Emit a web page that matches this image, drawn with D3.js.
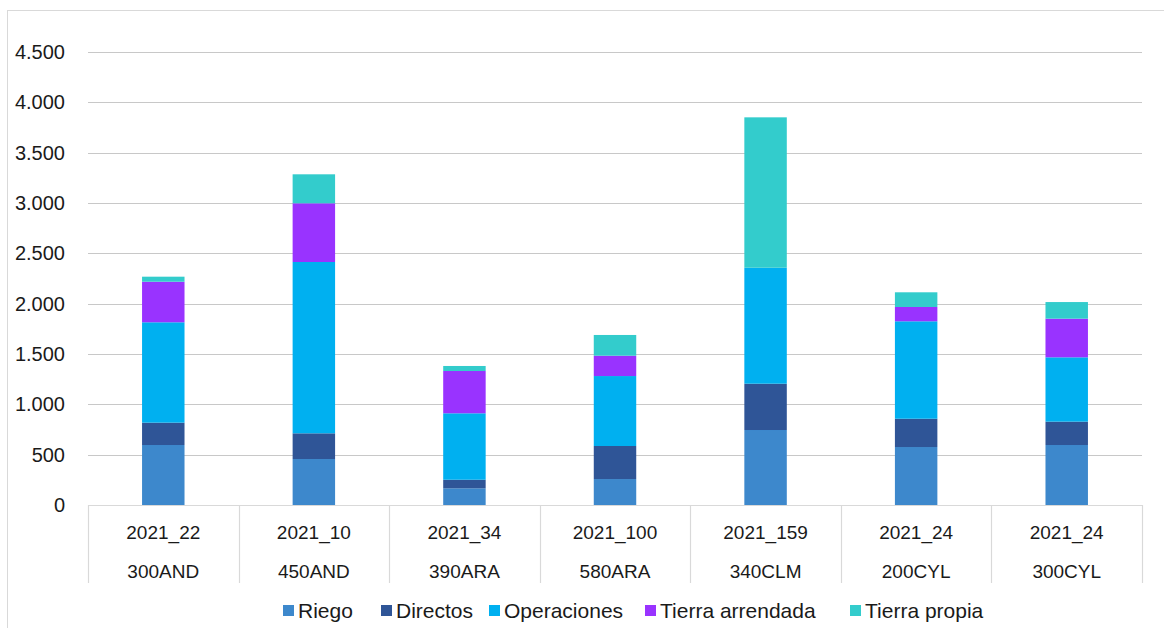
<!DOCTYPE html>
<html>
<head>
<meta charset="utf-8">
<script src="https://cdn.jsdelivr.net/npm/d3@7"></script>
<style>
  body { margin: 0; background: #fff; }
  text { font-family: "Liberation Sans", Arial, sans-serif; fill: #1a1a1a; }
</style>
</head>
<body>
<svg class="chart" width="1164" height="628"></svg>
<script>
// categorias (dos niveles)
var years = ['2021_22', '2021_10', '2021_34', '2021_100', '2021_159', '2021_24', '2021_24'];
var farms = ['300AND', '450AND', '390ARA', '580ARA', '340CLM', '200CYL', '300CYL'];

// series
var riego       = [596, 457, 166, 258, 745, 576, 596];
var directos    = [222, 255, 85, 328, 460, 281, 232];
var operaciones = [997, 1702, 660, 695, 1152, 968, 639];
var arrendada   = [403, 583, 420, 202, 0, 142, 384];
var propia      = [50, 288, 50, 206, 1494, 146, 165];

var seriesNames = ['Riego', 'Directos', 'Operaciones', 'Tierra arrendada', 'Tierra propia'];
var seriesValues = [riego, directos, operaciones, arrendada, propia];
var yTicks = [0, 500, 1000, 1500, 2000, 2500, 3000, 3500, 4000, 4500];

var color = d3.scaleOrdinal()
    .domain(seriesNames)
    .range(['#3d88cc', '#2f5597', '#00b0f0', '#9933ff', '#33cccc']);

var table = years.map(function(y, i) {
  var row = { idx: i };
  seriesNames.forEach(function(s, k) { row[s] = seriesValues[k][i]; });
  return row;
});

var svg = d3.select(".chart");

// marco del grafico
svg.append("rect")
    .attr("x", 7.5).attr("y", 10.5)
    .attr("width", 1200).attr("height", 700)
    .attr("fill", "none")
    .attr("stroke", "#d9d9d9");

var x = d3.scaleBand()
    .domain(d3.range(years.length))
    .range([88, 1142])
    .paddingInner(0.718)
    .paddingOuter(0.359);

var y = d3.scaleLinear()
    .domain([0, 4500])
    .range([505, 52]);

// rejilla
svg.append("g").selectAll("line")
  .data(yTicks.slice(1))
  .enter().append("line")
    .attr("x1", 88).attr("x2", 1142)
    .attr("y1", function(d) { return Math.round(y(d)) + 0.5; })
    .attr("y2", function(d) { return Math.round(y(d)) + 0.5; })
    .attr("stroke", "#c8c8c8")
    .attr("stroke-width", 1.2);

// eje y
var yAxis = d3.axisLeft(y).tickValues(yTicks).tickSize(0).tickPadding(0)
    .tickFormat(function(d) { return d3.format(",")(d).replace(/,/g, "."); });

svg.append("g")
    .attr("transform", "translate(65,0)")
    .call(yAxis)
    .call(function(g) { g.select(".domain").remove(); })
    .selectAll("text")
    .attr("font-size", 20)
    .attr("font-family", "Liberation Sans, Arial, sans-serif")
    .attr("fill", "#1a1a1a");

// barras apiladas
var stack = d3.stack().keys(seriesNames);
var layers = stack(table);

svg.append("g").selectAll("g")
  .data(layers)
  .enter().append("g")
    .attr("fill", function(d) { return color(d.key); })
  .selectAll("rect")
  .data(function(d) { return d; })
  .enter().append("rect")
    .attr("x", function(d) { return x(d.data.idx); })
    .attr("width", x.bandwidth())
    .attr("y", function(d) { return y(d[1]); })
    .attr("height", function(d) { return y(d[0]) - y(d[1]); });

// eje x con dos niveles
var axisG = svg.append("g");
axisG.append("line")
    .attr("x1", 88).attr("x2", 1142)
    .attr("y1", 505.5).attr("y2", 505.5)
    .attr("stroke", "#d9d9d9").attr("stroke-width", 1.2);

var step = x.step();
var seps = d3.range(years.length + 1).map(function(i) { return 88 + i * step; });
axisG.selectAll("line.sep")
  .data(seps)
  .enter().append("line")
    .attr("class", "sep")
    .attr("x1", function(d) { return Math.round(d) + 0.5; })
    .attr("x2", function(d) { return Math.round(d) + 0.5; })
    .attr("y1", 505).attr("y2", 583)
    .attr("stroke", "#d9d9d9").attr("stroke-width", 1.2);

axisG.selectAll("text.yr")
  .data(years)
  .enter().append("text")
    .attr("class", "yr")
    .attr("x", function(d, i) { return x(i) + x.bandwidth() / 2; })
    .attr("y", 532)
    .attr("dy", "0.35em")
    .attr("text-anchor", "middle")
    .attr("font-size", 19)
    .text(function(d) { return d; });

axisG.selectAll("text.fm")
  .data(farms)
  .enter().append("text")
    .attr("class", "fm")
    .attr("x", function(d, i) { return x(i) + x.bandwidth() / 2; })
    .attr("y", 571)
    .attr("dy", "0.35em")
    .attr("text-anchor", "middle")
    .attr("font-size", 19)
    .text(function(d) { return d; });

// leyenda
var legendX = [283, 381, 489, 645, 850];
var legend = svg.append("g").selectAll("g")
  .data(seriesNames)
  .enter().append("g")
    .attr("transform", function(d, i) { return "translate(" + legendX[i] + ",611)"; });

legend.append("rect")
    .attr("x", 0).attr("y", -6)
    .attr("width", 11).attr("height", 11)
    .attr("fill", function(d) { return color(d); });

legend.append("text")
    .attr("x", 15)
    .attr("y", 0)
    .attr("dy", "0.35em")
    .attr("font-size", 21)
    .text(function(d) { return d; });
</script>
</body>
</html>
